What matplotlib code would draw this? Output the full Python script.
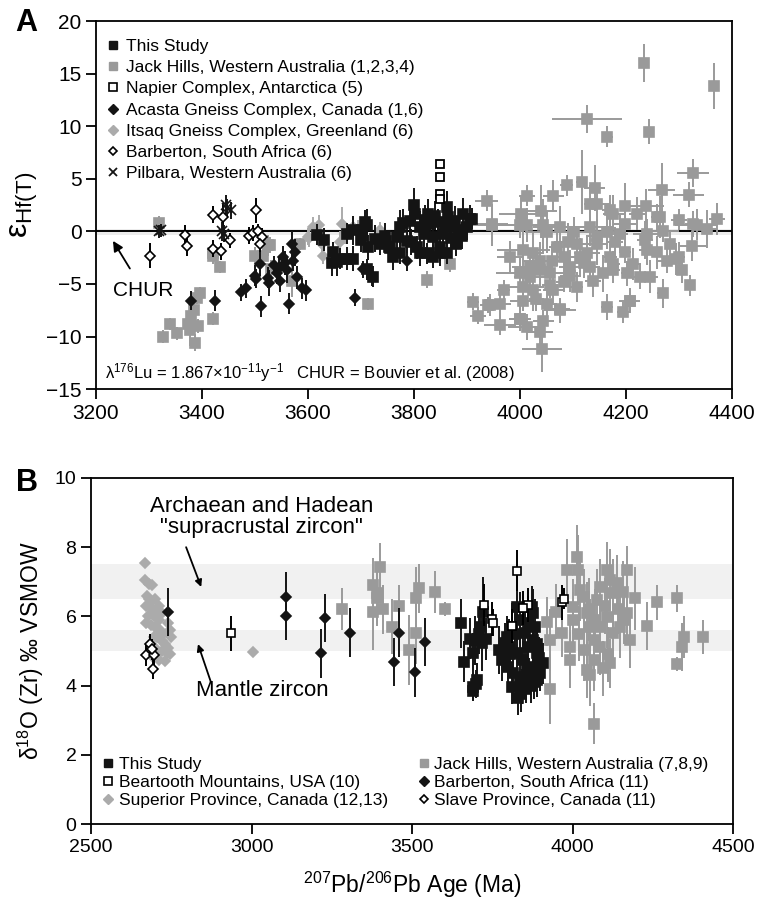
import matplotlib
matplotlib.use("Agg")
import matplotlib.pyplot as plt
from matplotlib.lines import Line2D

plt.rcParams['font.family'] = ['Liberation Sans', 'DejaVu Sans']
plt.rcParams['mathtext.fontset'] = 'custom'
plt.rcParams['mathtext.rm'] = 'Liberation Sans'
plt.rcParams['mathtext.it'] = 'Liberation Sans:italic'

BLACK = '#141414'
GREY = '#9a9a9a'
LGREY = '#ababab'

# ---------------- Panel A : epsilon Hf(T) ----------------
this_a_age = [3616, 3645, 3648, 3655, 3660, 3673, 3685, 3673, 3685, 3701, 3708, 3711, 3714, 3723, 3726,
              3745, 3748, 3752, 3755, 3761, 3767, 3774, 3774, 3786, 3792, 3799, 3802, 3805, 3811, 3811,
              3818, 3824, 3827, 3830, 3836, 3836, 3849, 3849, 3855, 3862, 3862, 3865, 3868, 3877, 3880,
              3884, 3893, 3899, 3906, 3909, 3630, 3700, 3735, 3780, 3820, 3845, 3870, 3890, 3712, 3795,
              3840, 3858]
this_a_eps = [-0.3, -3.0, -2.0, -2.9, -2.6, -2.6, -2.6, -0.2, 0.1, 0.1, 0.9, 0.6, -1.5, -4.3, -0.7,
              -0.4, -0.9, -1.5, -1.6, -2.4, -0.5, 0.4, -2.1, -0.9, 1.0, 2.5, 1.7, -1.5, 0.4, -2.1,
              -0.2, -2.1, 1.7, 0.7, -0.5, -2.4, -1.5, -2.1, -0.2, 2.3, -2.1, 1.4, 0.4, 1.0, -1.2,
              0.1, 1.7, 0.4, 1.2, 1.2, -0.8, -0.8, -1.2, 0.8, 1.1, 0.9, -0.6, -0.4, -3.6, -1.0,
              1.5, 0.6]
this_a_err = [1.0, 1.2, 1.0, 1.3, 1.0, 1.1, 1.2, 1.0, 1.4, 1.2, 1.1, 1.5, 1.2, 1.0, 1.3,
              1.2, 1.0, 1.4, 1.1, 1.3, 1.2, 1.6, 1.0, 1.2, 1.4, 1.6, 1.3, 1.1, 1.5, 1.2,
              1.3, 1.0, 1.4, 1.2, 1.5, 1.1, 1.3, 1.2, 1.4, 1.5, 1.0, 1.3, 1.2, 1.4, 1.1,
              1.3, 1.5, 1.2, 1.3, 1.0, 1.1, 1.2, 1.0, 1.3, 1.4, 1.2, 1.1, 1.3, 1.0, 1.2,
              1.4, 1.2]

acasta_age = [3380, 3425, 3473, 3483, 3500, 3502, 3509, 3511, 3525, 3527, 3535, 3541, 3547, 3553, 3560,
              3565, 3569, 3572, 3575, 3579, 3588, 3596, 3689, 3704, 3720, 3787, 3545, 3556]
acasta_eps = [-6.6, -6.6, -5.8, -5.4, -4.2, -4.5, -3.1, -7.1, -4.4, -4.9, -3.2, -4.0, -4.7, -2.4, -3.7,
              -6.9, -1.2, -2.8, -2.0, -4.35, -5.4, -5.6, -6.3, -3.6, -4.3, -2.8, -3.5, -3.0]
acasta_err = [0.9, 1.0, 0.8, 0.9, 1.0, 0.9, 1.1, 1.0, 1.0, 1.2, 0.9, 1.0, 1.1, 1.0, 1.2,
              1.0, 1.2, 1.0, 1.3, 1.1, 1.0, 1.0, 0.8, 0.8, 0.9, 1.0, 1.0, 1.1]

barb_a_age = [3302, 3367, 3372, 3421, 3420, 3436, 3439, 3452, 3502, 3488, 3496, 3505, 3514, 3510]
barb_a_eps = [-2.3, -0.3, -1.4, 1.6, -1.65, -1.9, 1.4, -0.85, 2.0, -0.4, -0.15, 0.05, -0.5, -1.2]
barb_a_err = [1.2, 0.9, 0.9, 0.8, 0.8, 0.8, 1.3, 0.7, 1.2, 0.8, 0.8, 0.7, 0.8, 0.8]

pilb_age = [3318, 3323, 3438, 3445, 3448, 3454, 3441]
pilb_eps = [0.0, 0.1, 0.0, 2.5, 2.2, 2.0, -0.2]
pilb_err = [0.6, 0.6, 0.9, 1.0, 0.9, 0.8, 0.8]

napier_age = [3849, 3849, 3849, 3849]
napier_eps = [6.4, 5.2, 3.6, 3.1]

itsaq_age = [3600, 3602, 3610, 3620, 3626, 3629, 3660, 3664, 3670, 3685, 3695, 3730, 3736]
itsaq_eps = [-0.5, -0.6, 0.4, 0.6, -1.2, -2.3, -1.0, 0.7, -0.2, 0.4, 0.1, -0.85, 0.1]
itsaq_err = [0.8, 0.9, 1.0, 1.0, 0.9, 0.8, 1.0, 1.6, 1.0, 0.9, 1.0, 0.8, 0.8]

jh_a_age = [3319, 3327, 3340, 3352, 3374, 3380, 3384, 3377, 3387, 3393, 3390, 3396, 3420, 3421, 3434,
            3420, 3500, 3515, 3524, 3528, 3531, 3569, 3585, 3714, 3824, 3868,
            4233, 4365, 4126, 4165, 4243, 3937, 3948, 4013, 4001, 4063, 4040, 4088, 4116, 4141, 4132,
            4145, 4170, 4198, 4237, 4267, 4326, 4318, 4264, 4300, 4333, 4371, 4352, 4269, 4325, 4283,
            4236, 4198, 4198, 4164, 4132, 4101, 4075, 4044, 4013, 4000, 4050, 3981, 4006, 4025, 4069,
            4107, 4145, 4170, 4113, 4094, 4132, 4176, 4214, 4245, 4226, 4258, 4277, 4299, 4305, 4321,
            4269, 4207, 4195, 4164, 4075, 4050, 4031, 4006, 3962, 3940, 3969, 3962, 4013, 4038, 4000,
            4044, 4000, 4019, 4038, 4057, 4082, 4107, 4063, 4025, 4138, 4157, 4176, 4126, 4082, 4038,
            4019, 4057, 4006, 4201, 4145, 4189, 4239, 4258, 4220, 4176, 4041, 3911, 3921, 3944, 3999,
            4075, 4208, 4295, 4327, 3947, 4090, 4120, 4060, 4180, 4095, 4240]
jh_a_eps = [0.8, -10.0, -8.8, -9.7, -8.8, -8.0, -7.5, -9.4, -10.6, -9.0, -6.3, -5.9, -8.3, -2.3, -3.4,
            -2.1, -2.3, -2.3, -1.3, -1.3, -3.6, -4.7, -1.2, -6.9, -4.6, -3.1,
            16.0, 13.8, 10.7, 9.0, 9.5, 2.9, 0.64, 3.37, 1.7, 3.37, 1.9, 4.4, 4.7, 4.1, 2.6,
            2.6, 2.0, 2.4, 2.4, 3.97, 5.56, 3.5, 1.37, 1.1, 0.64, 1.2, 0.26, 0.0, -1.4, -1.2,
            -0.85, -2.0, 0.74, -0.06, 0.4, -0.06, 0.4, 0.58, 0.58, 0.58, -0.06, -2.4, -1.8, -2.1, -1.5,
            -1.17, -1.17, -2.4, -2.4, -3.4, -3.4, -3.7, -3.1, -4.3, -4.3, -2.0, -2.8, -2.4, -3.7, -5.1,
            -5.9, -6.6, -7.7, -7.2, -7.5, -6.9, -6.4, -6.6, -6.9, -7.0, -5.6, -8.9, -9.1, -9.6, -8.3,
            -8.5, -4.0, -4.3, -3.7, -4.0, -4.8, -5.3, -5.6, -5.6, -4.7, -4.0, -3.1, -2.1, -2.4, -2.8,
            -3.4, -5.1, -5.3, -4.0, -0.4, -0.2, -0.2, 1.37, 1.7, 1.7, -11.2, -6.7, -8.0, -7.0, -8.3,
            -7.4, -6.6, -2.6, 0.7, 0.67, -1.0, -3.0, -2.8, -1.0, -4.2, -1.8]
jh_a_yerr = [0.7, 0.6, 0.6, 0.6, 0.8, 1.0, 1.2, 1.5, 0.8, 0.7, 0.6, 0.6, 0.6, 0.8, 0.6,
             0.8, 0.8, 0.7, 1.0, 0.8, 0.9, 1.5, 0.6, 0.6, 0.8, 0.8,
             1.8, 2.2, 1.3, 1.0, 1.2, 1.0, 2.0, 1.0, 1.8, 1.5, 2.5, 1.0, 3.0, 2.2, 1.8,
             2.0, 1.5, 2.2, 1.6, 2.5, 1.3, 1.2, 2.0, 1.0, 1.5, 1.5, 1.8, 1.0, 1.4, 1.2,
             1.8, 1.0, 2.0, 1.6, 1.8, 1.4, 2.0, 2.5, 1.6, 1.2, 2.0, 1.5, 2.5, 2.0, 1.8,
             1.6, 2.0, 1.4, 1.8, 1.6, 1.4, 1.2, 1.5, 1.6, 1.2, 1.6, 1.2, 1.4, 1.2, 1.0,
             1.4, 1.2, 1.0, 1.2, 1.2, 1.4, 1.2, 1.0, 1.0, 0.8, 1.0, 1.0, 1.2, 1.5, 1.2,
             1.0, 1.5, 1.4, 1.6, 1.2, 1.0, 1.4, 1.2, 2.0, 1.5, 1.8, 1.2, 1.6, 1.4, 1.8,
             1.6, 1.2, 1.8, 1.2, 1.6, 1.8, 1.4, 1.2, 1.6, 1.8, 2.2, 0.8, 0.8, 1.0, 1.2,
             1.0, 1.0, 1.5, 1.2, 1.6, 1.8, 1.4, 1.6, 1.4, 1.6, 1.4]
jh_a_xerr = [5, 5, 5, 5, 5, 5, 5, 5, 5, 5, 5, 5, 5, 5, 5,
             5, 5, 5, 5, 5, 5, 5, 5, 5, 5, 5,
             8, 5, 66, 10, 8, 22, 60, 15, 40, 20, 30, 12, 10, 20, 12,
             25, 15, 10, 35, 25, 30, 30, 10, 15, 40, 15, 20, 30, 25, 10,
             15, 12, 20, 30, 45, 35, 50, 35, 30, 45, 40, 25, 50, 20, 15,
             25, 20, 12, 15, 20, 18, 12, 15, 15, 12, 10, 20, 12, 10, 10,
             10, 20, 12, 12, 30, 20, 15, 25, 20, 15, 12, 30, 35, 25, 20,
             20, 45, 30, 20, 25, 15, 12, 20, 15, 15, 10, 12, 25, 20, 30,
             35, 15, 40, 10, 20, 15, 25, 10, 15, 20, 38, 12, 15, 15, 20,
             20, 12, 10, 15, 30, 25, 20, 30, 15, 20, 15]

# ---------------- Panel B : d18O ----------------
this_b_age = [3652, 3662, 3681, 3697, 3691, 3707, 3717, 3722, 3701, 3691, 3769, 3779, 3795, 3801, 3810,
              3826, 3836, 3800, 3815, 3836, 3857, 3878, 3898, 3909, 3888, 3878, 3883, 3878, 3873, 3852,
              3862, 3826, 3846, 3790, 3810, 3841, 3888, 3690, 3700, 3830, 3840, 3855, 3870, 3880, 3820,
              3860, 3890, 3805, 3865, 3895, 3712, 3730]
this_b_d18o = [5.8, 4.69, 5.36, 5.3, 4.93, 5.5, 5.22, 6.13, 4.16, 3.97, 5.03, 4.74, 5.41, 5.12, 5.7,
               6.28, 5.9, 4.55, 4.35, 4.26, 4.45, 4.55, 4.35, 4.64, 4.93, 5.32, 5.7, 6.09, 6.28, 5.51,
               5.12, 4.93, 4.74, 5.22, 3.97, 3.97, 4.16, 3.85, 4.05, 3.65, 3.75, 3.9, 4.0, 4.1, 5.5,
               5.8, 5.2, 4.9, 4.3, 4.8, 5.7, 5.35]
this_b_err = [0.7, 0.6, 0.6, 0.7, 0.6, 0.6, 0.8, 1.0, 0.5, 0.4, 0.7, 0.6, 0.6, 0.8, 0.7,
              1.0, 0.8, 0.6, 0.7, 0.6, 0.7, 0.6, 0.5, 0.6, 0.7, 0.7, 0.8, 0.7, 0.6, 0.7,
              0.6, 0.6, 0.7, 0.6, 0.5, 0.5, 0.5, 0.3, 0.4, 0.5, 0.5, 0.4, 0.5, 0.5, 0.7,
              0.8, 0.6, 0.6, 0.5, 0.6, 0.6, 0.6]

barb_b_age = [2741, 3107, 3107, 3217, 3229, 3305, 3445, 3460, 3510, 3539]
barb_b_d18o = [6.12, 6.57, 6.01, 4.93, 5.96, 5.53, 4.69, 5.53, 4.38, 5.26]
barb_b_err = [0.7, 0.7, 0.7, 0.7, 0.7, 0.7, 0.7, 0.7, 0.7, 0.7]

bear_age = [2936, 3826, 3724, 3748, 3753, 3812, 3862, 3846, 3966, 3974]
bear_d18o = [5.51, 7.32, 6.33, 5.92, 5.82, 5.72, 6.33, 6.24, 6.41, 6.51]
bear_err = [0.5, 0.6, 0.6, 0.5, 0.4, 0.5, 0.5, 0.5, 0.5, 0.3]

sup_age = [2668, 2668, 2680, 2690, 2675, 2680, 2685, 2672, 2690, 2700, 2678, 2695, 2710, 2672, 2688,
           2700, 2715, 2725, 2705, 2720, 2730, 2700, 2740, 2720, 2735, 2690, 2745, 2710, 2730, 2750,
           2745, 2740, 2700, 2710, 2720, 2695, 3005]
sup_d18o = [7.53, 7.05, 6.95, 6.9, 6.6, 6.5, 6.4, 6.3, 6.2, 6.1, 6.0, 6.0, 5.9, 5.8, 5.75,
            5.7, 5.6, 5.5, 5.4, 5.3, 5.2, 5.1, 5.1, 5.0, 4.95, 4.85, 4.9, 4.75, 4.7, 5.4,
            5.6, 5.8, 6.5, 6.3, 6.1, 5.4, 4.98]

slave_age = [2670, 2684, 2696, 2694, 2689]
slave_d18o = [4.88, 5.2, 4.88, 4.48, 5.05]
slave_err = [0.3, 0.3, 0.3, 0.3, 0.3]

jh_b_age = [3281, 3379, 3400, 3390, 3390, 3379, 3410, 3436, 3460, 3491, 3512, 3512, 3522, 3572, 3601,
            3810, 3919, 3929, 3948, 3966, 3982, 4013, 4018, 3992, 4002, 4023, 4034, 4044, 4054, 4065,
            4075, 4086, 4106, 4117, 4127, 4138, 4169, 4158, 4195, 4169, 4148, 4179, 4127, 4106, 4086,
            4065, 4044, 4117, 4086, 4034, 3992, 4231, 4264, 4324, 4348, 4339, 4324, 4405, 3930, 4068,
            4000, 4050, 4100, 4140, 4020, 4070, 4160, 4110, 4055, 4095]
jh_b_d18o = [6.21, 6.9, 7.42, 6.67, 6.52, 6.13, 6.2, 5.7, 6.31, 5.03, 5.53, 6.52, 6.81, 6.71, 6.21,
             5.03, 5.85, 5.32, 6.14, 5.53, 7.34, 7.73, 7.34, 5.12, 6.28, 6.76, 6.57, 6.09, 5.7, 5.32,
             6.47, 6.86, 7.34, 7.05, 6.67, 6.96, 7.34, 6.71, 6.52, 6.09, 5.7, 5.32, 5.51, 5.99, 5.7,
             4.74, 4.45, 4.64, 5.12, 5.03, 4.74, 5.72, 6.41, 6.52, 5.41, 5.12, 4.62, 5.41, 3.9, 2.9,
             5.9, 6.2, 6.3, 6.2, 5.5, 5.9, 5.9, 4.9, 4.3, 4.5]
jh_b_err = [0.6, 0.8, 0.7, 0.9, 0.8, 1.1, 0.7, 0.8, 0.6, 1.0, 0.9, 0.9, 0.7, 0.6, 0.2,
            0.3, 0.7, 0.9, 0.8, 0.7, 0.9, 0.9, 1.0, 0.8, 0.8, 0.9, 0.8, 0.9, 0.8, 0.9,
            0.9, 0.8, 0.8, 0.9, 1.0, 0.8, 0.7, 0.9, 0.9, 0.8, 0.9, 0.8, 0.7, 0.9, 0.8,
            0.9, 0.8, 0.7, 0.8, 0.9, 0.8, 0.7, 0.5, 0.4, 0.6, 0.7, 0.2, 0.5, 1.0, 0.6,
            0.8, 0.9, 0.8, 0.7, 0.8, 0.9, 0.7, 0.8, 0.9, 0.8]


def draw(ax, x, y, yerr, marker, fc, ec, ms, z, xerr=None, lw=1.4):
    ax.errorbar(x, y, xerr=xerr, yerr=yerr, fmt=marker, mfc=fc, mec=ec, ms=ms, mew=1.2,
                ecolor=ec if fc != 'white' else 'black', elinewidth=lw, capsize=0, zorder=z)


fig = plt.figure(figsize=(7.59, 9.07), dpi=100)

# ---- panel A
ax = fig.add_axes([0.1265, 0.571, 0.838, 0.4057])
ax.axhspan(-0.35, 0.25, color='#ececec', lw=0, zorder=0)
ax.axhline(0, color='black', lw=1.4, zorder=1)

draw(ax, jh_a_age, jh_a_eps, jh_a_yerr, 's', GREY, GREY, 6.5, 2, xerr=jh_a_xerr)
draw(ax, itsaq_age, itsaq_eps, itsaq_err, 'D', LGREY, LGREY, 5.5, 3)
draw(ax, this_a_age, this_a_eps, this_a_err, 's', BLACK, BLACK, 6.5, 4)
draw(ax, acasta_age, acasta_eps, acasta_err, 'D', BLACK, BLACK, 5.5, 5)
draw(ax, barb_a_age, barb_a_eps, barb_a_err, 'D', 'white', 'black', 5, 6)
draw(ax, pilb_age, pilb_eps, pilb_err, 'x', BLACK, BLACK, 7, 6)
ax.plot(napier_age, napier_eps, 's', mfc='white', mec='black', ms=5.5, mew=1.3, zorder=7)

ax.set_xlim(3200, 4400)
ax.set_ylim(-15, 20)
ax.set_xticks([3200, 3400, 3600, 3800, 4000, 4200, 4400])
ax.set_yticks([-15, -10, -5, 0, 5, 10, 15, 20])
ax.tick_params(direction='out', length=7, width=1.3, labelsize=15)
for s in ax.spines.values():
    s.set_linewidth(1.3)
ax.set_ylabel(r'ε$_{\mathrm{Hf(T)}}$', fontsize=23, labelpad=4)

ax.annotate('CHUR', xy=(3232, -0.9), xytext=(3289, -5.6), fontsize=15, ha='center', va='center',
            arrowprops=dict(arrowstyle='-|>', color='black', lw=1.3, shrinkB=0, shrinkA=8))
ax.text(3217, -13.4, r'λ$^{176}$Lu = 1.867×10$^{-11}$y$^{-1}$   CHUR = Bouvier et al. (2008)',
        fontsize=12, va='center')

h_a = [
    Line2D([], [], ls='', marker='s', mfc=BLACK, mec=BLACK, ms=6),
    Line2D([], [], ls='', marker='s', mfc=GREY, mec=GREY, ms=6),
    Line2D([], [], ls='', marker='s', mfc='white', mec='black', ms=5.5, mew=1.2),
    Line2D([], [], ls='', marker='D', mfc=BLACK, mec=BLACK, ms=5),
    Line2D([], [], ls='', marker='D', mfc=LGREY, mec=LGREY, ms=5),
    Line2D([], [], ls='', marker='D', mfc='white', mec='black', ms=4.5, mew=1.2),
    Line2D([], [], ls='', marker='x', color=BLACK, ms=6, mew=1.3),
]
lab_a = ['This Study', 'Jack Hills, Western Australia (1,2,3,4)', 'Napier Complex, Antarctica (5)',
         'Acasta Gneiss Complex, Canada (1,6)', 'Itsaq Gneiss Complex, Greenland (6)',
         'Barberton, South Africa (6)', 'Pilbara, Western Australia (6)']
ax.legend(h_a, lab_a, loc='upper left', frameon=False, fontsize=12.5, handlelength=0.6,
          handletextpad=0.4, labelspacing=0.35, borderaxespad=0.3, bbox_to_anchor=(0.0, 0.985))

fig.text(0.034, 0.975, 'A', fontsize=22, fontweight='bold', ha='center', va='center')

# ---- panel B
bx = fig.add_axes([0.12, 0.0915, 0.846, 0.3815])
bx.axhspan(6.5, 7.5, color='#f1f1f1', lw=0, zorder=0)
bx.axhspan(5.0, 5.6, color='#f1f1f1', lw=0, zorder=0)

draw(bx, sup_age, sup_d18o, None, 'D', LGREY, LGREY, 5.5, 2)
draw(bx, jh_b_age, jh_b_d18o, jh_b_err, 's', GREY, GREY, 6.5, 3)
draw(bx, this_b_age, this_b_d18o, this_b_err, 's', BLACK, BLACK, 6.5, 4)
draw(bx, barb_b_age, barb_b_d18o, barb_b_err, 'D', BLACK, BLACK, 5.5, 5)
draw(bx, bear_age, bear_d18o, bear_err, 's', 'white', 'black', 6, 6)
draw(bx, slave_age, slave_d18o, slave_err, 'D', 'white', 'black', 5, 6)

bx.set_xlim(2500, 4500)
bx.set_ylim(0, 10)
bx.set_xticks([2500, 3000, 3500, 4000, 4500])
bx.set_yticks([0, 2, 4, 6, 8, 10])
bx.tick_params(direction='out', length=7, width=1.3, labelsize=14)
for s in bx.spines.values():
    s.set_linewidth(1.3)
bx.set_ylabel(r'δ$^{18}$O (Zr) ‰ VSMOW', fontsize=16.5, labelpad=6)
bx.set_xlabel(r'$^{207}$Pb/$^{206}$Pb Age (Ma)', fontsize=16.5, labelpad=10)

bx.text(3030, 8.87, 'Archaean and Hadean\n"supracrustal zircon"', fontsize=16, ha='center',
        va='center', linespacing=1.05)
bx.annotate('', xy=(2843, 6.85), xytext=(2796, 8.0),
            arrowprops=dict(arrowstyle='-|>', color='black', lw=1.3, shrinkA=0, shrinkB=0))
bx.text(3033, 3.87, 'Mantle zircon', fontsize=16, ha='center', va='center')
bx.annotate('', xy=(2833, 5.2), xytext=(2874, 4.08),
            arrowprops=dict(arrowstyle='-|>', color='black', lw=1.3, shrinkA=0, shrinkB=0))

h_b = [
    Line2D([], [], ls='', marker='s', mfc=BLACK, mec=BLACK, ms=6),
    Line2D([], [], ls='', marker='s', mfc='white', mec='black', ms=5.5, mew=1.2),
    Line2D([], [], ls='', marker='D', mfc=LGREY, mec=LGREY, ms=5),
    Line2D([], [], ls='', marker='s', mfc=GREY, mec=GREY, ms=6),
    Line2D([], [], ls='', marker='D', mfc=BLACK, mec=BLACK, ms=5),
    Line2D([], [], ls='', marker='D', mfc='white', mec='black', ms=4.5, mew=1.2),
]
lab_b = ['This Study', 'Beartooth Mountains, USA (10)', 'Superior Province, Canada (12,13)',
         'Jack Hills, Western Australia (7,8,9)', 'Barberton, South Africa (11)',
         'Slave Province, Canada (11)']
bx.legend(h_b, lab_b, loc='lower left', ncol=2, frameon=False, fontsize=12.5,
          handlelength=0.6, handletextpad=0.3, labelspacing=0.15, columnspacing=1.75,
          borderaxespad=0.3, bbox_to_anchor=(0.0, 0.012))

fig.text(0.036, 0.468, 'B', fontsize=22, fontweight='bold', ha='center', va='center')

fig.savefig('out.png', dpi=100)
